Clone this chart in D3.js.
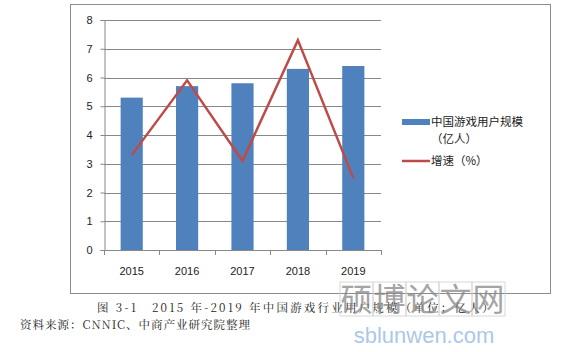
<!DOCTYPE html>
<html>
<head>
<meta charset="utf-8">
<script src="https://cdn.jsdelivr.net/npm/d3@7"></script>
<style>
  body { margin: 0; background: #fff; }
  svg { display: block; }
</style>
</head>
<body>
<div id="chart"></div>
<script>
const years = ['2015', '2016', '2017', '2018', '2019'];
const users = [5.3, 5.7, 5.8, 6.3, 6.4];
const growth = [3.3, 5.9, 3.1, 7.3, 2.5];
const yTicks = [0, 1, 2, 3, 4, 5, 6, 7, 8];

const width = 566, height = 352;
const svg = d3.select('#chart').append('svg')
    .attr('width', width)
    .attr('height', height);

// chart frame
svg.append('rect')
    .attr('x', 70.5).attr('y', 4.5)
    .attr('width', 480).attr('height', 289)
    .attr('fill', '#fff')
    .attr('stroke', '#8c8c8c');

const plot = { left: 104, right: 381, top: 20, bottom: 250 };

const x = d3.scaleBand()
    .domain(years)
    .range([plot.left, plot.right])
    .paddingInner(0.6)
    .paddingOuter(0.3);

const y = d3.scaleLinear()
    .domain([0, 8])
    .range([plot.bottom, plot.top]);

// gridlines
svg.append('g')
    .selectAll('line')
    .data(yTicks)
    .enter().append('line')
    .attr('x1', plot.left)
    .attr('x2', plot.right)
    .attr('y1', d => Math.round(y(d)) + 0.5)
    .attr('y2', d => Math.round(y(d)) + 0.5)
    .attr('stroke', '#888');

// y axis
const yAxis = svg.append('g')
    .attr('transform', `translate(${plot.left + 0.5},0)`)
    .call(d3.axisLeft(y).tickValues(yTicks).tickSize(4).tickPadding(8));
yAxis.select('.domain').attr('stroke', '#888');
yAxis.selectAll('.tick line').attr('stroke', '#888');
yAxis.selectAll('text')
    .attr('fill', '#222')
    .style('font-family', 'Liberation Sans, Arial, sans-serif')
    .style('font-size', '11px');

// x axis ticks at category boundaries
const step = (plot.right - plot.left) / years.length;
svg.append('g')
    .selectAll('line')
    .data(d3.range(years.length + 1))
    .enter().append('line')
    .attr('x1', d => Math.round(plot.left + d * step) + 0.5)
    .attr('x2', d => Math.round(plot.left + d * step) + 0.5)
    .attr('y1', plot.bottom)
    .attr('y2', plot.bottom + 5)
    .attr('stroke', '#888');

svg.append('g')
    .selectAll('text')
    .data(years)
    .enter().append('text')
    .attr('x', d => x(d) + x.bandwidth() / 2)
    .attr('y', 275)
    .attr('text-anchor', 'middle')
    .attr('fill', '#222')
    .style('font-family', 'Liberation Sans, Arial, sans-serif')
    .style('font-size', '11px')
    .text(d => d);

// bars
svg.append('g')
    .selectAll('rect')
    .data(users)
    .enter().append('rect')
    .attr('x', (d, i) => x(years[i]))
    .attr('y', d => y(d))
    .attr('width', x.bandwidth())
    .attr('height', d => y(0) - y(d))
    .attr('fill', '#4f81bd');

// growth line
const line = d3.line()
    .x((d, i) => x(years[i]) + x.bandwidth() / 2)
    .y(d => y(d));

svg.append('path')
    .datum(growth)
    .attr('d', line)
    .attr('fill', 'none')
    .attr('stroke', '#be4b48')
    .attr('stroke-width', 2.5)
    .attr('stroke-linejoin', 'miter');

// legend
const legendFont = 'Noto Sans CJK SC, sans-serif';
const legend = svg.append('g');
legend.append('rect')
    .attr('x', 402).attr('y', 119)
    .attr('width', 28).attr('height', 6)
    .attr('fill', '#4f81bd');
legend.append('text')
    .attr('x', 431).attr('y', 126)
    .style('font-family', legendFont).style('font-size', '11.5px')
    .attr('fill', '#222')
    .text('中国游戏用户规模');
legend.append('text')
    .attr('x', 431).attr('y', 143)
    .style('font-family', legendFont).style('font-size', '11.5px')
    .attr('fill', '#222')
    .text('（亿人）');
legend.append('line')
    .attr('x1', 402).attr('x2', 430)
    .attr('y1', 161).attr('y2', 161)
    .attr('stroke', '#be4b48')
    .attr('stroke-width', 2.5);
legend.append('text')
    .attr('x', 431).attr('y', 165)
    .style('font-family', legendFont).style('font-size', '11.5px')
    .attr('fill', '#222')
    .text('增速（%）');

// caption and source
svg.append('text')
    .attr('x', 97).attr('y', 312)
    .style('font-family', 'Noto Serif CJK SC, Noto Sans CJK SC, serif')
    .style('font-size', '11.5px')
    .style('letter-spacing', '2.2px')
    .attr('fill', '#222')
    .text('图 3-1　2015 年-2019 年中国游戏行业用户规模（单位：亿人）');
svg.append('text')
    .attr('x', 20).attr('y', 329)
    .style('font-family', 'Noto Serif CJK SC, Noto Sans CJK SC, serif')
    .style('font-size', '11.5px')
    .style('letter-spacing', '1px')
    .attr('fill', '#222')
    .text('资料来源：CNNIC、中商产业研究院整理');

// watermark
const wm = svg.append('g').attr('opacity', 0.75);
['硕', '博', '论', '文', '网'].forEach((c, i) => {
    wm.append('rect')
        .attr('x', 340 + i * 33).attr('y', 282)
        .attr('width', 33).attr('height', 34)
        .attr('fill', 'none')
        .attr('stroke', '#ccc');
    wm.append('text')
        .attr('x', 356.5 + i * 33).attr('y', 311)
        .attr('text-anchor', 'middle')
        .style('font-family', 'Noto Sans CJK SC, sans-serif')
        .style('font-size', '32px')
        .attr('fill', '#888')
        .text(c);
});
wm.append('text')
    .attr('x', 424).attr('y', 343)
    .attr('text-anchor', 'middle')
    .style('font-family', 'Liberation Sans, Arial, sans-serif')
    .style('font-size', '22px')
    .attr('fill', '#8fb6e0')
    .text('sblunwen.com');
</script>
</body>
</html>
